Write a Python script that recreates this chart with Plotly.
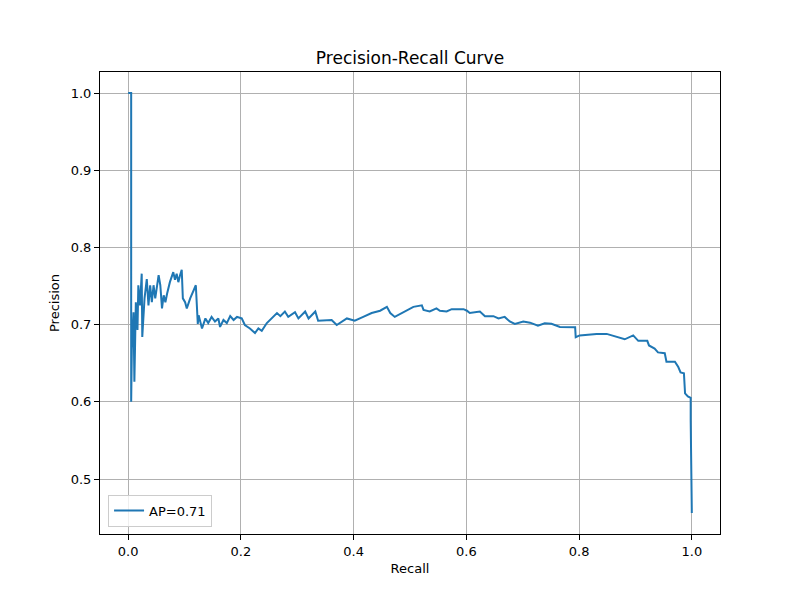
import plotly.graph_objects as go

recall = [0.0, 0.0053, 0.0053, 0.0065, 0.0095, 0.011, 0.0136, 0.0165, 0.018, 0.021, 0.024, 0.025,
          0.029, 0.033, 0.036, 0.039, 0.042, 0.045, 0.048, 0.051, 0.054, 0.057, 0.060, 0.063,
          0.066, 0.069, 0.074, 0.080, 0.083, 0.086, 0.089, 0.092, 0.095, 0.097, 0.101, 0.104,
          0.110, 0.120, 0.122, 0.1235,
          0.125, 0.131, 0.137, 0.142, 0.148, 0.154, 0.160, 0.163, 0.169, 0.175, 0.181, 0.187,
          0.193, 0.2015, 0.207, 0.216, 0.225, 0.231, 0.237, 0.246, 0.264, 0.270, 0.278, 0.284,
          0.296, 0.302, 0.314, 0.320, 0.332, 0.337, 0.361, 0.370, 0.388, 0.402, 0.417, 0.432,
          0.447, 0.459, 0.465, 0.473, 0.506, 0.521, 0.524, 0.535, 0.547, 0.553, 0.565, 0.574,
          0.595, 0.601, 0.606, 0.624, 0.633, 0.648, 0.657, 0.668, 0.677, 0.686, 0.701, 0.713,
          0.727, 0.739, 0.751, 0.766, 0.793, 0.794, 0.801, 0.831, 0.849, 0.866, 0.881, 0.896,
          0.905, 0.921, 0.924, 0.934, 0.940, 0.952, 0.955, 0.970, 0.976, 0.980, 0.986, 0.988,
          0.993, 0.998, 0.998, 1.0]
precision = [1.0, 1.0, 0.600, 0.669, 0.716, 0.626, 0.729, 0.693, 0.751, 0.725, 0.766, 0.684,
             0.734, 0.759, 0.725, 0.751, 0.729, 0.751, 0.734, 0.751, 0.764, 0.751, 0.721, 0.738,
             0.729, 0.740, 0.755, 0.768, 0.758, 0.766, 0.755, 0.764, 0.771, 0.734, 0.729, 0.721,
             0.734, 0.751, 0.712, 0.701,
             0.712, 0.695, 0.708, 0.702, 0.710, 0.704, 0.708, 0.697, 0.706, 0.702, 0.711, 0.706,
             0.710, 0.708, 0.6995, 0.695, 0.689, 0.695, 0.692, 0.702, 0.715, 0.711, 0.717, 0.710,
             0.716, 0.708, 0.717, 0.708, 0.717, 0.705, 0.706, 0.6995, 0.708, 0.705, 0.710, 0.715,
             0.718, 0.723, 0.715, 0.710, 0.723, 0.725, 0.719, 0.717, 0.721, 0.718, 0.717, 0.720,
             0.720, 0.718, 0.715, 0.717, 0.711, 0.711, 0.708, 0.710, 0.704, 0.701, 0.704, 0.7025,
             0.6985, 0.7017, 0.701, 0.697, 0.6965, 0.6836, 0.686, 0.688, 0.688, 0.6844, 0.681, 0.686,
             0.679, 0.679, 0.673, 0.669, 0.664, 0.663, 0.652, 0.652, 0.645, 0.638, 0.637, 0.611,
             0.607, 0.605, 0.576, 0.456]

x_ticks = [0.0, 0.2, 0.4, 0.6, 0.8, 1.0]
y_ticks = [0.5, 0.6, 0.7, 0.8, 0.9, 1.0]
legend_label = "AP=0.71"

fig = go.Figure()
fig.add_trace(go.Scatter(x=recall, y=precision, mode="lines", name=legend_label,
                         line=dict(color="#1f77b4", width=2), showlegend=True))

font = "DejaVu Sans"
axis_common = dict(showgrid=True, gridcolor="#b0b0b0", gridwidth=1, zeroline=False,
                   showline=True, linecolor="black", linewidth=1, mirror=True,
                   ticks="outside", ticklen=5, tickcolor="black", tickformat=".1f",
                   tickfont=dict(family=font, size=13, color="black"))
fig.update_layout(
    width=800, height=600,
    margin=dict(l=92, r=88, t=64, b=74),
    paper_bgcolor="white", plot_bgcolor="white",
    font=dict(family=font, color="black"),
    title=dict(text="Precision-Recall Curve", x=0.5, xref="paper", y=1 - 50 / 600,
               yref="container", yanchor="middle", font=dict(family=font, size=17)),
    xaxis=dict(range=[-0.05, 1.05], tickvals=x_ticks,
               title=dict(text="Recall", standoff=6, font=dict(family=font, size=13)), **axis_common),
    yaxis=dict(range=[0.4288, 1.0272], tickvals=y_ticks,
               title=dict(text="Precision", standoff=8, font=dict(family=font, size=13)), **axis_common),
    legend=dict(x=0.013, y=0.016, xanchor="left", yanchor="bottom",
                bgcolor="rgba(255,255,255,0.8)", bordercolor="#cccccc", borderwidth=1,
                font=dict(family=font, size=13)),
)
fig.write_html("out.html")
